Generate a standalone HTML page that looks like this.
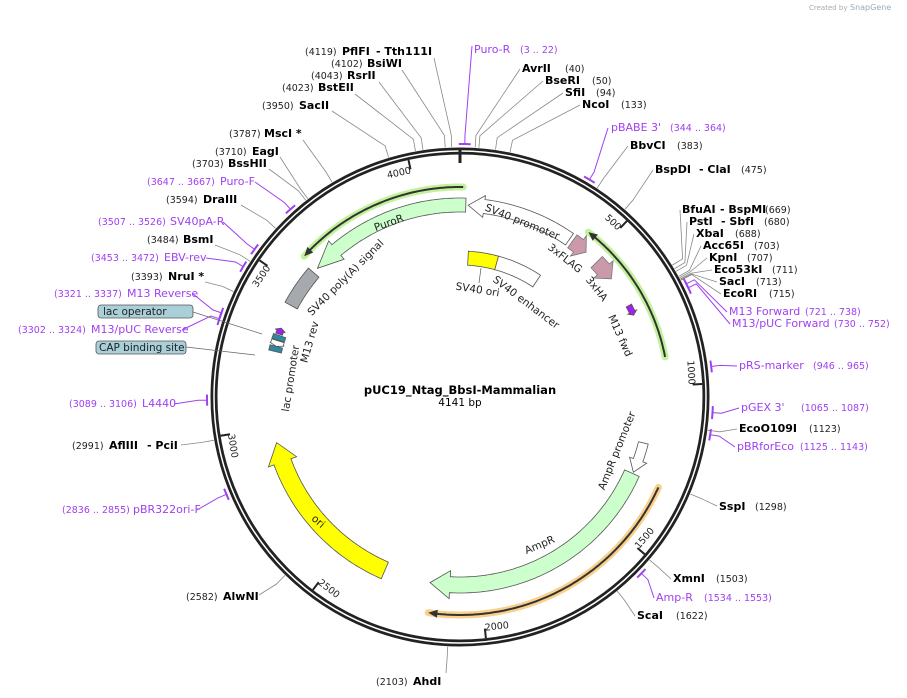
<!DOCTYPE html>
<html><head><meta charset="utf-8"><style>
html,body{margin:0;padding:0;background:#fff;}
svg{display:block;font-family:"DejaVu Sans","Liberation Sans",sans-serif;}
.e{font-size:11px;font-weight:bold;fill:#000}
.n{font-size:9.5px;fill:#222}
.p{font-size:11px;fill:#a040f0}
.pn{font-size:9.5px;fill:#a040f0}
.f{font-size:10.5px;fill:#222}
.t{font-size:9.5px;fill:#222}
</style></head><body>
<svg id="s" width="907" height="698" viewBox="0 0 907 698" xmlns="http://www.w3.org/2000/svg">
<text x="809" y="10" style="font-size:7px;fill:#aaa">Created by</text><text x="850" y="10" style="font-size:8px;fill:#9ab">SnapGene</text>
<g id="lines"></g>
<circle cx="460" cy="397" r="246" fill="none" stroke="#222" stroke-width="7"/>
<circle cx="460" cy="397" r="246" fill="none" stroke="#fff" stroke-width="1.5"/>
<line x1="460" y1="149" x2="460" y2="163" stroke="#222" stroke-width="3"/>
<g id="shapes"></g>
<g id="ticks"></g>

<!-- left top labels -->
<text class="n" x="305" y="55">(4119)</text><text class="e" x="342" y="55">PflFI</text><text class="e" x="376" y="55">- Tth111I</text>
<text class="n" x="331" y="67">(4102)</text><text class="e" x="367" y="67">BsiWI</text>
<text class="n" x="311" y="79">(4043)</text><text class="e" x="347" y="79">RsrII</text>
<text class="n" x="282" y="91">(4023)</text><text class="e" x="318" y="91">BstEII</text>
<text class="n" x="262" y="109">(3950)</text><text class="e" x="299" y="109">SacII</text>
<text class="n" x="229" y="137">(3787)</text><text class="e" x="264" y="137">MscI *</text>
<text class="n" x="215" y="155">(3710)</text><text class="e" x="252" y="155">EagI</text>
<text class="n" x="192" y="167">(3703)</text><text class="e" x="228" y="167">BssHII</text>
<text class="pn" x="147" y="185">(3647 .. 3667)</text><text class="p" x="220" y="185">Puro-F</text>
<text class="n" x="166" y="203">(3594)</text><text class="e" x="203" y="203">DraIII</text>
<text class="pn" x="98" y="225">(3507 .. 3526)</text><text class="p" x="170" y="225">SV40pA-R</text>
<text class="n" x="147" y="243">(3484)</text><text class="e" x="183" y="243">BsmI</text>
<text class="pn" x="91" y="261">(3453 .. 3472)</text><text class="p" x="164" y="261">EBV-rev</text>
<text class="n" x="131" y="280">(3393)</text><text class="e" x="168" y="280">NruI *</text>
<text class="pn" x="54" y="297">(3321 .. 3337)</text><text class="p" x="127" y="297">M13 Reverse</text>
<rect x="98" y="305" width="95" height="13" rx="3" fill="#a9cfd9" stroke="#555" stroke-width="0.8"/><text class="f" x="103" y="315">lac operator</text>
<text class="pn" x="18" y="333">(3302 .. 3324)</text><text class="p" x="91" y="333">M13/pUC Reverse</text>
<rect x="96" y="341" width="90" height="13" rx="3" fill="#a9cfd9" stroke="#555" stroke-width="0.8"/><text class="f" x="99" y="351">CAP binding site</text>
<text class="pn" x="69" y="407">(3089 .. 3106)</text><text class="p" x="142" y="407">L4440</text>
<text class="n" x="72" y="449">(2991)</text><text class="e" x="109" y="449">AflIII</text><text class="e" x="147" y="449">- PciI</text>
<text class="pn" x="62" y="513">(2836 .. 2855)</text><text class="p" x="133" y="513">pBR322ori-F</text>
<text class="n" x="186" y="600">(2582)</text><text class="e" x="223" y="600">AlwNI</text>
<text class="n" x="376" y="685">(2103)</text><text class="e" x="413" y="685">AhdI</text>
<!-- right labels -->
<text class="p" x="474" y="53">Puro-R</text><text class="pn" x="520" y="53">(3 .. 22)</text>
<text class="e" x="522" y="72">AvrII</text><text class="n" x="565" y="72">(40)</text>
<text class="e" x="545" y="84">BseRI</text><text class="n" x="592" y="84">(50)</text>
<text class="e" x="565" y="96">SfiI</text><text class="n" x="596" y="96">(94)</text>
<text class="e" x="582" y="108">NcoI</text><text class="n" x="621" y="108">(133)</text>
<text class="p" x="611" y="131">pBABE 3'</text><text class="pn" x="670" y="131">(344 .. 364)</text>
<text class="e" x="630" y="149">BbvCI</text><text class="n" x="677" y="149">(383)</text>
<text class="e" x="655" y="173">BspDI</text><text class="e" x="699" y="173">- ClaI</text><text class="n" x="741" y="173">(475)</text>
<text class="e" x="682" y="213">BfuAI</text><text class="e" x="720" y="213">- BspMI</text><text class="n" x="765" y="213">(669)</text>
<text class="e" x="689" y="225">PstI</text><text class="e" x="721" y="225">- SbfI</text><text class="n" x="764" y="225">(680)</text>
<text class="e" x="696" y="237">XbaI</text><text class="n" x="735" y="237">(688)</text>
<text class="e" x="703" y="249">Acc65I</text><text class="n" x="754" y="249">(703)</text>
<text class="e" x="709" y="261">KpnI</text><text class="n" x="747" y="261">(707)</text>
<text class="e" x="714" y="273">Eco53kI</text><text class="n" x="772" y="273">(711)</text>
<text class="e" x="719" y="285">SacI</text><text class="n" x="756" y="285">(713)</text>
<text class="e" x="723" y="297">EcoRI</text><text class="n" x="769" y="297">(715)</text>
<text class="p" x="729" y="315">M13 Forward</text><text class="pn" x="805" y="315">(721 .. 738)</text>
<text class="p" x="732" y="327">M13/pUC Forward</text><text class="pn" x="834" y="327">(730 .. 752)</text>
<text class="p" x="739" y="369">pRS-marker</text><text class="pn" x="813" y="369">(946 .. 965)</text>
<text class="p" x="741" y="411">pGEX 3'</text><text class="pn" x="801" y="411">(1065 .. 1087)</text>
<text class="e" x="739" y="432">EcoO109I</text><text class="n" x="809" y="432">(1123)</text>
<text class="p" x="737" y="450">pBRforEco</text><text class="pn" x="800" y="450">(1125 .. 1143)</text>
<text class="e" x="719" y="510">SspI</text><text class="n" x="755" y="510">(1298)</text>
<text class="e" x="673" y="582">XmnI</text><text class="n" x="716" y="582">(1503)</text>
<text class="p" x="656" y="601">Amp-R</text><text class="pn" x="704" y="601">(1534 .. 1553)</text>
<text class="e" x="637" y="619">ScaI</text><text class="n" x="676" y="619">(1622)</text>

<!-- center -->
<text x="460" y="394" text-anchor="middle" style="font-size:11.5px;font-weight:bold">pUC19_Ntag_BbsI-Mammalian</text>
<text x="460" y="406" text-anchor="middle" style="font-size:10.5px">4141 bp</text>

<!-- feature labels -->
<text class="f" text-anchor="middle" transform="translate(390,226) rotate(-20)">PuroR</text>
<text class="f" text-anchor="middle" transform="translate(521,225) rotate(22)">SV40 promoter</text>
<text class="f" text-anchor="middle" transform="translate(348,280) rotate(-45)">SV40 poly(A) signal</text>
<text class="f" text-anchor="middle" transform="translate(563,261) rotate(38)">3xFLAG</text>
<text class="f" text-anchor="middle" transform="translate(594,291) rotate(52)">3xHA</text>
<text class="f" text-anchor="middle" transform="translate(617,337) rotate(66)">M13 fwd</text>
<text class="f" text-anchor="middle" transform="translate(477,293) rotate(9)">SV40 ori</text>
<line x1="481" y1="268" x2="479" y2="283" stroke="#555" stroke-width="0.7"/>
<text class="f" text-anchor="middle" transform="translate(524,305) rotate(37)">SV40 enhancer</text>
<text class="f" text-anchor="middle" transform="translate(313,343) rotate(-74)">M13 rev</text>
<text class="f" text-anchor="middle" transform="translate(294,379) rotate(-81)">lac promoter</text>
<text class="f" text-anchor="middle" transform="translate(316,524) rotate(41)">ori</text>
<text class="f" text-anchor="middle" transform="translate(541,548) rotate(-23)">AmpR</text>
<text class="f" text-anchor="middle" transform="translate(620,452) rotate(-68)">AmpR promoter</text>
<line x1="262" y1="334" x2="193" y2="312" stroke="#666" stroke-width="0.7"/>
<line x1="255" y1="355" x2="186" y2="347" stroke="#666" stroke-width="0.7"/>
</svg>
<script>
(function(){
var cx=460,cy=397,N=4141,NS="http://www.w3.org/2000/svg";
function P(r,bp){var t=bp/N*2*Math.PI;return [cx+r*Math.sin(t),cy-r*Math.cos(t)];}
function arcPts(r,a,b){var o=[],n=Math.max(2,Math.ceil(Math.abs(b-a)/8));for(var i=0;i<=n;i++)o.push(P(r,a+(b-a)*i/n));return o;}
function el(g,tag,at){var e=document.createElementNS(NS,tag);for(var k in at)e.setAttribute(k,at[k]);document.getElementById(g).appendChild(e);return e;}
function poly(pts){return pts.map(function(p){return p[0].toFixed(1)+","+p[1].toFixed(1)}).join(" ");}
function arrow(a,b,r1,r2,head,h,ex,fill,stroke){
 var m=(r1+r2)/2,pts;
 if(head==='b'){pts=arcPts(r2,a,b-h).concat([P(r2+ex,b-h),P(m,b),P(r1-ex,b-h)]).concat(arcPts(r1,b-h,a));}
 else if(head==='a'){pts=[P(m,a),P(r2+ex,a+h)].concat(arcPts(r2,a+h,b)).concat(arcPts(r1,b,a+h)).concat([P(r1-ex,a+h)]);}
 else {pts=arcPts(r2,a,b).concat(arcPts(r1,b,a));}
 el("shapes","polygon",{points:poly(pts),fill:fill,stroke:stroke||"#555","stroke-width":0.8});
}
function hline(a,b,r,head,glow){
 var pts=head==='a'?arcPts(r,a+25,b):arcPts(r,a,b-25);
 el("shapes","polyline",{points:poly(arcPts(r,a,b)),fill:"none",stroke:glow,"stroke-width":7,"stroke-linecap":"round","stroke-opacity":0.85});
 el("shapes","polyline",{points:poly(pts),fill:"none",stroke:"#333","stroke-width":2});
 var tip=head==='a'?a:b,base=head==='a'?a+28:b-28;
 el("shapes","polygon",{points:poly([P(r,tip),P(r+4,base),P(r-4,base)]),fill:"#333"});
}
hline(3590,4151,210,'a',"#b8f08c");
hline(436,908,209,'a',"#b8f08c");
hline(1317,2167,218,'b',"#f8c878");
arrow(3590,4161,185,199,'a',90,5,"#ccffcc");
arrow(28,400,185,199,'a',55,4,"#ffffff");
arrow(3433,3570,185,199,null,0,0,"#a6a9ad");
arrow(412,472,184,200,'b',34,5,"#cc99aa","#777");
arrow(522,598,184,200,'b',42,5,"#cc99aa","#777");
arrow(708,745,189,195,'b',12,2,"#a020f0","#555");
arrow(38,176,132,146,null,0,0,"#ffff00");
arrow(176,385,132,146,null,0,0,"#ffffff");
arrow(2340,2945,180,198,'b',70,6,"#ffff00");
arrow(1310,2176,180,196,'b',70,6,"#ccffcc");
arrow(1197,1305,184,194,'b',45,4,"#ffffff");
arrow(3305,3322,184,197,null,0,0,"#2e8aa0");
arrow(3283,3303,184,197,'a',8,1,"#ffffff");
arrow(3265,3283,184,197,null,0,0,"#2e8aa0");
arrow(3326,3348,188,195,'b',10,2,"#a020f0");
var tk=[[500,'e'],[1000,'e'],[1500,'s'],[2000,'s'],[2500,'s'],[3000,'s'],[3500,'e'],[4000,'e']];
tk.forEach(function(t){var bp=t[0],th=bp/N*360,p1=P(242.5,bp),p2=P(233,bp);
 el("ticks","line",{x1:p1[0],y1:p1[1],x2:p2[0],y2:p2[1],stroke:"#222","stroke-width":2});
 var top=(th<90||th>270),r=top?229:235,q=P(r,bp),rot=top?th:th-180;
 var e=el("ticks","text",{x:0,y:0,"class":"t","text-anchor":top?"end":"start",transform:"translate("+q[0].toFixed(1)+","+q[1].toFixed(1)+") rotate("+rot.toFixed(1)+")"});
 e.textContent=String(bp);});
var L=[[4119,434,58],[4102,402,70],[4043,379,82],[4023,355,94],[3950,332,111],[3787,303,140],[3710,280,157],[3703,269,169],[3594,241,205],[3484,215,245],[3393,205,282],[2991,181,445],[2582,259,595],[2103,446,673],
[40,520,69],[50,543,81],[94,563,93],[133,580,105],[383,628,146],[475,653,170],[669,680,210],[680,687,222],[688,694,234],[703,701,246],[707,707,258],[711,712,270],[713,717,282],[715,721,294],[1123,737,429],[1298,717,506],[1503,671,579],[1622,635,616]];
L.forEach(function(l){var p=P(250,l[0]),q=P(262,l[0]);el("lines","polyline",{points:poly([p,q,[l[1],l[2]]]),fill:"none",stroke:"#888","stroke-width":0.8});});
var PR=[[3,22,472,46],[344,364,608,128],[3647,3667,255,182],[3507,3526,223,222],[3453,3472,206,258],[3321,3337,193,294],[3302,3324,182,330],[3089,3106,174,404],[2836,2855,197,510],[721,738,727,312],[730,752,730,324],[946,965,737,366],[1065,1087,739,408],[1125,1143,735,447],[1534,1553,654,598]];
PR.forEach(function(l){var m=(l[0]+l[1])/2;
 el("lines","polyline",{points:poly(arcPts(253,l[0]-6,l[1]+6)),fill:"none",stroke:"#a040f0","stroke-width":2});
 var q=P(262,m);el("lines","polyline",{points:poly([P(253,m),q,[l[2],l[3]]]),fill:"none",stroke:"#a040f0","stroke-width":1});});
})();
</script>
</body></html>
